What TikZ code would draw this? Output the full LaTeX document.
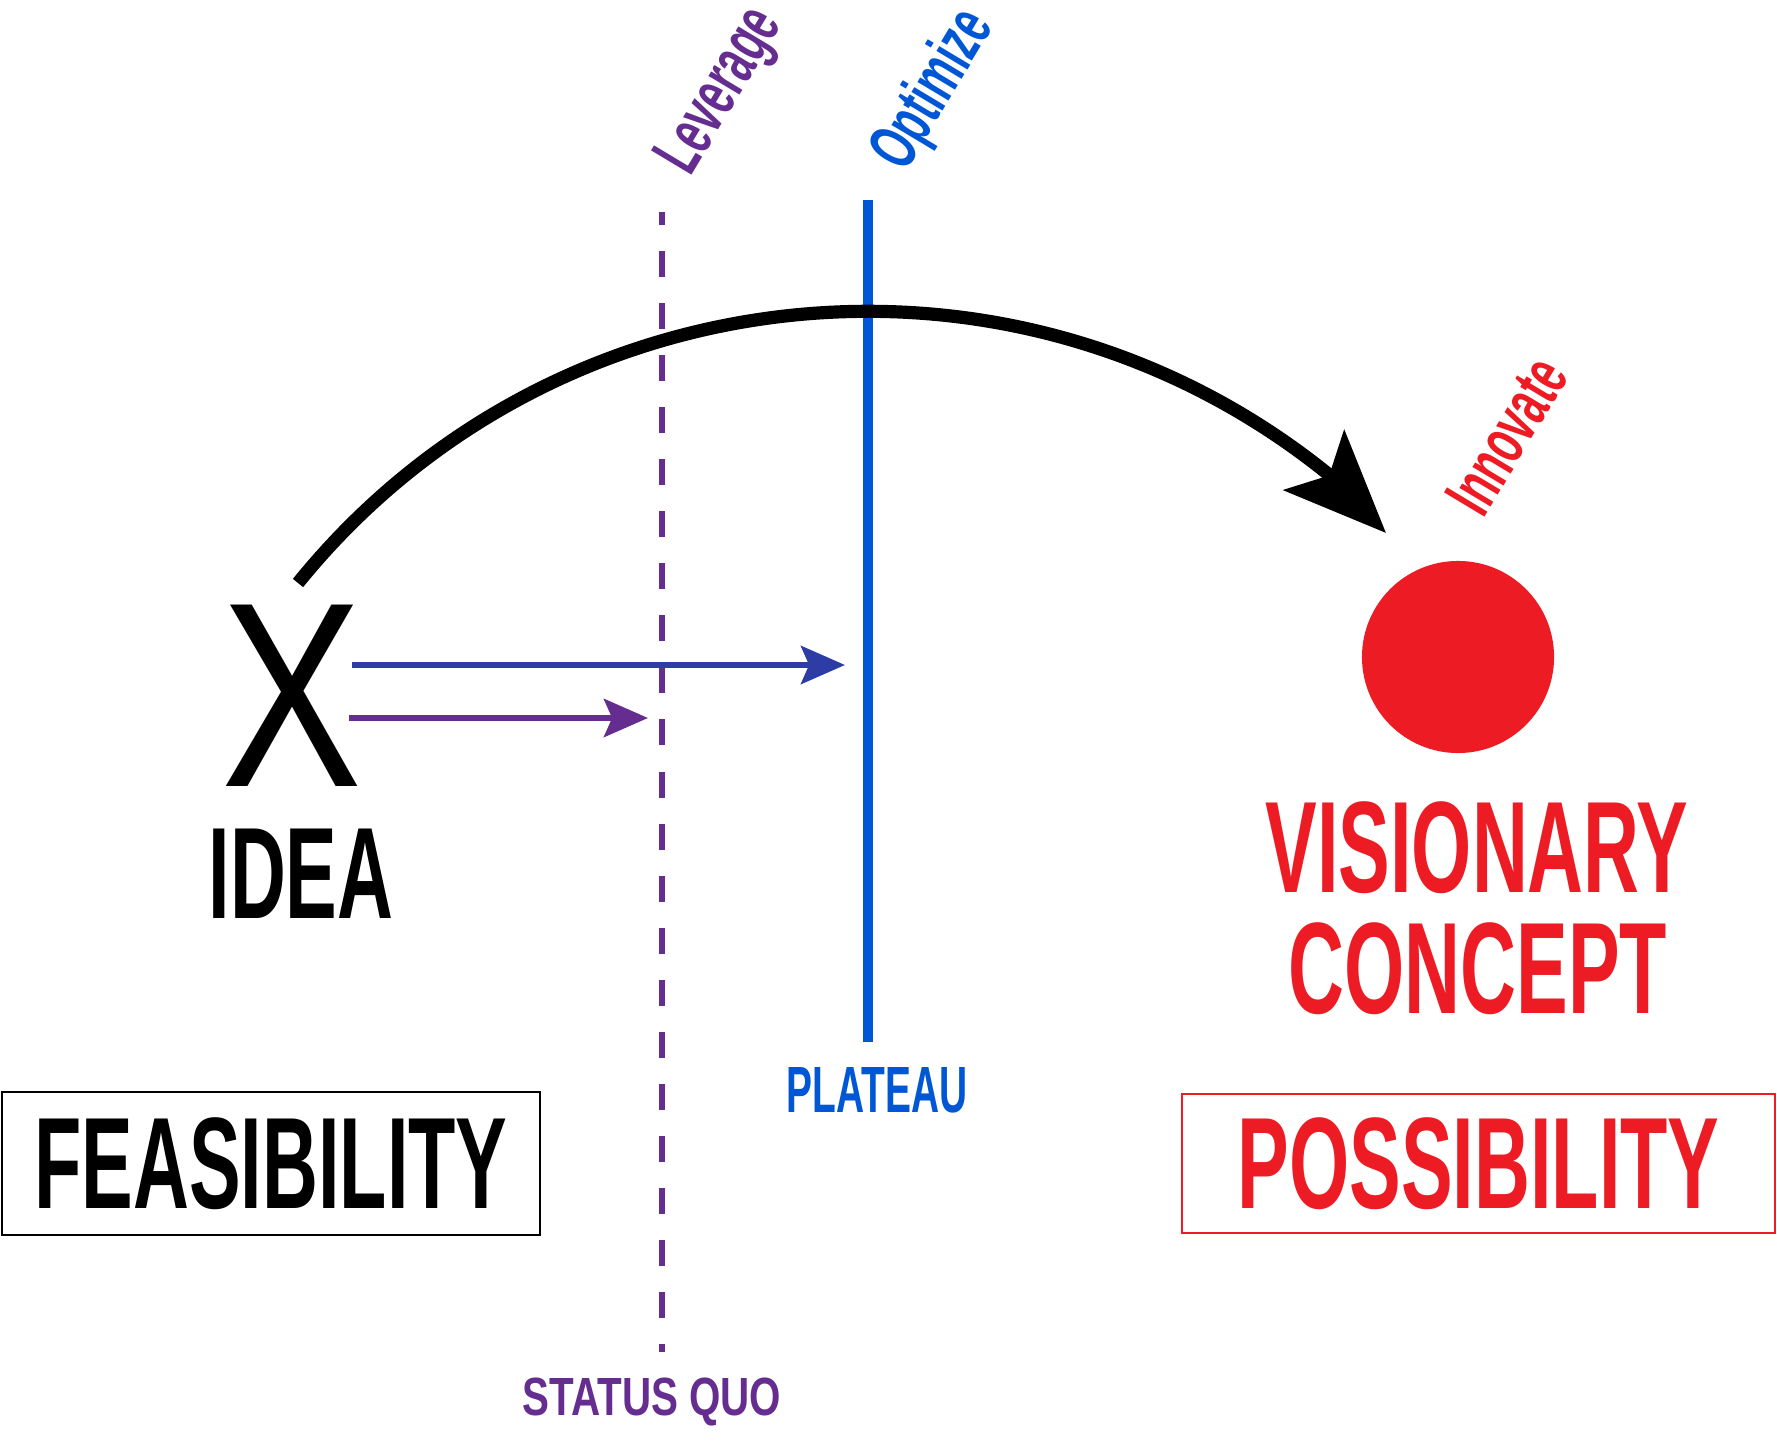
\documentclass[tikz,border=0pt]{standalone}
\usepackage{fontspec}
\usepackage{xcolor}
\usetikzlibrary{arrows.meta, positioning}
\newfontfamily\condfont[FakeStretch=0.595]{Liberation Sans}
\newfontfamily\widefont[FakeStretch=0.75]{Liberation Sans}
\newfontfamily\xfont[FakeStretch=0.8]{Liberation Sans}
\definecolor{quopurple}{RGB}{102,45,145}
\definecolor{plateaublue}{RGB}{0,87,214}
\definecolor{optarrow}{RGB}{46,61,165}
\definecolor{visionred}{RGB}{237,28,36}

\begin{document}
\begin{tikzpicture}[x=0.01cm, y=-0.01cm,
		bigword/.style={font=\condfont\bfseries\fontsize{37}{36}\selectfont, inner sep=0pt},
		smallword/.style={font=\condfont\bfseries\fontsize{18.6}{20}\selectfont, inner sep=0pt},
		tilted/.style={inner sep=0pt, font=\condfont\bfseries\fontsize{19.5}{20}\selectfont, rotate=59, anchor=base west},
		framebox/.style={draw, line width=0.7pt},
		smallarrow/.style={line width=1.85pt, -{Stealth[length=12.5pt, width=10.8pt, inset=2.3pt]}},
		jump/.style={line width=3.75pt, line join=round}]
	% Page size of the reference
	\useasboundingbox (0,0) rectangle (1777,1440);
	
	% The two limits: status quo (dashed) and plateau
	\coordinate (quo-top) at (662,212);
	\coordinate (quo-bot) at (662,1352);
	\coordinate (plat-top) at (868,200);
	\coordinate (plat-bot) at (868,1042);
	\draw[quopurple, line width=1.8pt, dash pattern=on 7.4pt off 7.4pt, dash phase=3.7pt] (quo-top) -- (quo-bot);
	\draw[plateaublue, line width=2.85pt] (plat-top) -- (plat-bot);
	
	% Labels of the limits
	\node[tilted, text=quopurple] (leverage) at (690,178) {Leverage};
	\node[tilted, text=plateaublue] (optimize) at (905,174) {Optimize};
	\node[tilted, text=visionred] (innovate) at (1483,520) {Innovate};
	\node[smallword, anchor=base, text=plateaublue] (plateau) at (877,1112) {PLATEAU};
	\node[smallword, anchor=base, text=quopurple, font=\widefont\bfseries\fontsize{15.3}{16}\selectfont] (statusquo) at (652,1415) {STATUS QUO};
	
	% The idea
	\node[font=\xfont\fontsize{75}{75}\selectfont, inner sep=0pt, anchor=base] (ideax) at (292,786) {X};
	\node[bigword, anchor=base] (idea) at (301,918) {IDEA};
	
	% The visionary concept
	\node[circle, fill=visionred, minimum size=1.92cm, inner sep=0pt] (dot) at (1458,657) {};
	\node[bigword, anchor=base, text=visionred] (visionary) at (1477,892) {VISIONARY};
	\node[bigword, anchor=base, text=visionred] (concept) at (1478,1013) {CONCEPT};
	
	% Boxes at the bottom
	\node[bigword, framebox, minimum width=5.38cm, minimum height=1.43cm] (feasibility) at (271,1163.5) {FEASIBILITY};
	\node[bigword, framebox, draw=visionred, text=visionred, line width=0.6pt, minimum width=5.93cm, minimum height=1.39cm] (possibility) at (1478.5,1163.5) {POSSIBILITY};
	
	% Short arrows from the idea
	\coordinate (opt-from) at (352,665);
	\coordinate (opt-to) at (845,665);
	\coordinate (lev-from) at (349,718);
	\coordinate (lev-to) at (648,718);
	\foreach \a/\c in {opt/optarrow, lev/quopurple} {
		\draw[smallarrow, \c] (\a-from) -- (\a-to);
	}
	
	% The big jump, ending in a straight piece for the head
	\coordinate (arcstart) at (298,583);
	\coordinate (arctip) at (1386,533);
	\draw[jump, -{Stealth[length=29pt, width=24pt, inset=6pt]}] (arcstart) arc[start angle=-141, end angle=-51.3, radius=733] -- (arctip);
\end{tikzpicture}
\end{document}
